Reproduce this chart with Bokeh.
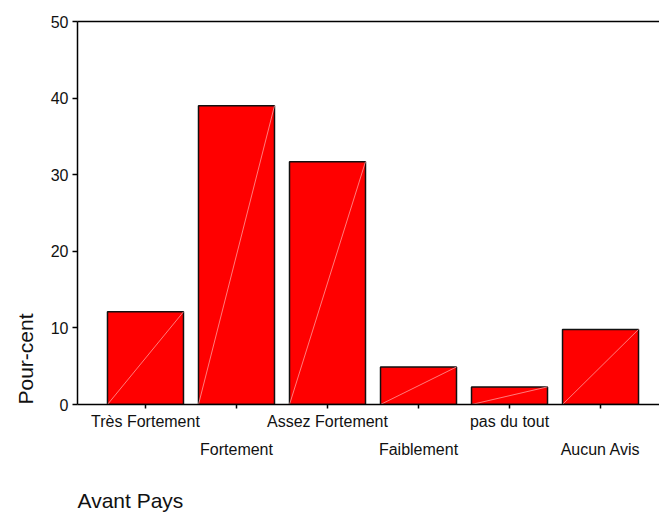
from bokeh.plotting import figure
from bokeh.models import Range1d, FixedTicker, LinearAxis, ColumnDataSource, Title
from bokeh.embed import file_html
from bokeh.resources import INLINE

categories = ["Très Fortement", "Fortement", "Assez Fortement", "Faiblement", "pas du tout", "Aucun Avis"]
percent = [12.1, 39.0, 31.7, 4.9, 2.3, 9.8]
y_ticks = [0, 10, 20, 30, 40, 50]
x_title = "Avant Pays"
y_title = "Pour-cent"

FONT = "Liberation Sans"
BAR_W = 0.835

idx = list(range(len(categories)))
src = ColumnDataSource(dict(
    x=idx,
    top=percent,
    x0=[i - BAR_W / 2 for i in idx],
    x1=[i + BAR_W / 2 for i in idx],
    y0=[0] * len(idx),
))

p = figure(width=659, height=537, output_backend="svg", toolbar_location=None,
           x_range=Range1d(-0.747, 5.648), y_range=Range1d(0, 50),
           min_border_left=77, min_border_right=0, min_border_top=21,
           min_border_bottom=132, x_axis_location=None, y_axis_location=None)
p.grid.visible = False
p.outline_line_color = None
p.background_fill_color = "white"
p.border_fill_color = "white"

p.vbar(x="x", top="top", width=BAR_W, bottom=0, source=src,
       fill_color="#ff0000", line_color="#111111", line_width=1.5)
p.segment(x0="x0", y0="y0", x1="x1", y1="top", source=src,
          line_color="#ff9a9a", line_width=0.8)

# y axis
ya = LinearAxis(ticker=FixedTicker(ticks=y_ticks))
ya.axis_line_color = "black"
ya.axis_line_width = 1.5
ya.major_tick_line_color = "black"
ya.major_tick_line_width = 1.5
ya.major_tick_out = 5
ya.major_tick_in = 0
ya.minor_tick_line_color = None
ya.major_label_standoff = 4
ya.major_label_text_font = FONT
ya.major_label_text_font_size = "16px"
ya.major_label_text_color = "#111111"
p.add_layout(ya, "left")

# x axis row 1 (even labels with ticks)
xa = LinearAxis(ticker=FixedTicker(ticks=idx))
xa.major_label_overrides = {i: (categories[i] if i % 2 == 0 else "") for i in idx}
xa.axis_line_color = "black"
xa.axis_line_width = 1.5
xa.major_tick_line_color = "black"
xa.major_tick_line_width = 1.5
xa.major_tick_out = 4
xa.major_tick_in = 0
xa.minor_tick_line_color = None
xa.major_label_standoff = 4
xa.major_label_text_font = FONT
xa.major_label_text_font_size = "16px"
xa.major_label_text_color = "#111111"
p.add_layout(xa, "below")

# x axis row 2 (odd labels, staggered)
xb = LinearAxis(ticker=FixedTicker(ticks=[i for i in idx if i % 2 == 1]))
xb.major_label_overrides = {i: categories[i] for i in idx if i % 2 == 1}
xb.axis_line_color = None
xb.major_tick_line_color = None
xb.major_tick_out = 0
xb.major_tick_in = 0
xb.minor_tick_line_color = None
xb.major_label_standoff = 8
xb.major_label_text_font = FONT
xb.major_label_text_font_size = "16px"
xb.major_label_text_color = "#111111"
p.add_layout(xb, "below")

# top border line
ta = LinearAxis(ticker=FixedTicker(ticks=[]))
ta.axis_line_color = "black"
ta.axis_line_width = 1.5
ta.major_tick_line_color = None
ta.minor_tick_line_color = None
ta.major_label_text_font_size = "0px"
p.add_layout(ta, "above")

# axis titles
p.add_layout(Title(text=x_title, align="left", standoff=52, text_font=FONT,
                   text_font_size="21px", text_font_style="normal",
                   text_color="#111111"), "below")
p.add_layout(Title(text=y_title, align="left", standoff=22, text_font=FONT,
                   text_font_size="21px", text_font_style="normal",
                   text_color="#111111"), "left")

open("out.html", "w").write(file_html(p, INLINE))
